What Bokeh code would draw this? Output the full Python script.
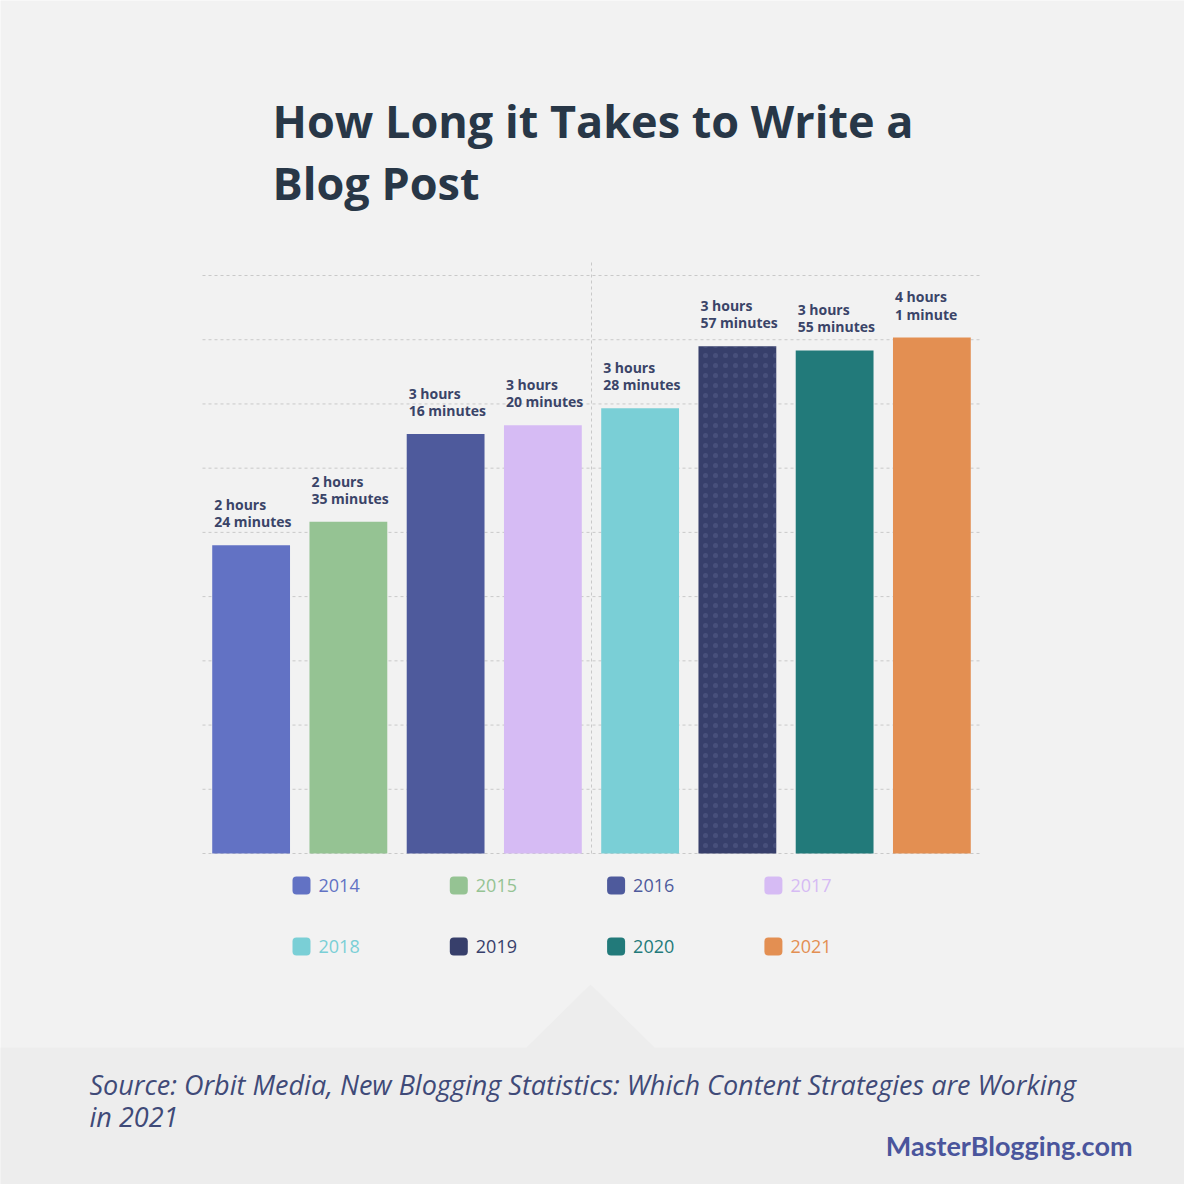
from bokeh.plotting import figure
from bokeh.models import (ColumnDataSource, Range1d, Label, BoxAnnotation,
                          PolyAnnotation)
from bokeh.core.properties import value
from bokeh.embed import file_html
from bokeh.resources import INLINE

# data
years = [2014, 2015, 2016, 2017, 2018, 2019, 2020, 2021]
minutes = [144, 155, 196, 200, 208, 237, 235, 241]
bar_labels = ["2 hours\n24 minutes", "2 hours\n35 minutes", "3 hours\n16 minutes",
              "3 hours\n20 minutes", "3 hours\n28 minutes", "3 hours\n57 minutes",
              "3 hours\n55 minutes", "4 hours\n1 minute"]
colors = ["#6272c4", "#95c393", "#4e5a9c", "#d6bbf4",
          "#7acfd6", "#373f6b", "#227a7a", "#e38f52"]
grid_ticks = [0, 30, 60, 90, 120, 150, 180, 210, 240, 270]

BG = "#f2f2f2"
FOOT = "#ededed"
LABEL_C = "#3a4468"
GRID_C = "#c9c9c9"

W = H = 1184
# plot area inside the canvas (canvas px): left, right, top, bottom
PL, PR, PT, PB = 202, 980, 260, 853
Y_TOP = 277

x_lo, x_hi = years[0] - 0.5, years[-1] + 0.5
xs_per_px = (x_hi - x_lo) / (PR - PL)
ys_per_px = Y_TOP / (PB - PT)


def sx(px):
    # reference page x -> canvas screen x
    return px - 8


def sy(py):
    # reference page y -> canvas screen y (measured from bottom)
    return H - (py - 8)


src = ColumnDataSource(dict(
    year=years, minutes=minutes, label=bar_labels, color=colors,
    hatch=["dot" if y == 2019 else "blank" for y in years],
))

p = figure(width=W, height=H,
           x_range=Range1d(x_lo - PL * xs_per_px, x_hi + (W - PR) * xs_per_px),
           y_range=Range1d(-(H - PB) * ys_per_px, Y_TOP + PT * ys_per_px),
           output_backend="svg", toolbar_location=None,
           x_axis_location=None, y_axis_location=None, min_border=0,
           background_fill_color=BG, border_fill_color=BG,
           outline_line_color=None)
p.grid.visible = False

# footer band with notch
p.add_layout(BoxAnnotation(left=sx(-20), right=sx(1220), top=sy(1055), bottom=sy(1220),
                           left_units="screen", right_units="screen",
                           top_units="screen", bottom_units="screen",
                           fill_color=FOOT, fill_alpha=1, line_color=None,
                           level="underlay"))
p.add_layout(PolyAnnotation(xs=[sx(533), sx(598), sx(663)],
                            ys=[sy(1056), sy(992), sy(1056)],
                            xs_units="screen", ys_units="screen",
                            fill_color=FOOT, fill_alpha=1, line_color=None,
                            level="underlay"))

# dashed grid and centre divider
p.segment(x0=x_lo, x1=x_hi, y0=grid_ticks, y1=grid_ticks, line_color=GRID_C,
          line_dash="3 3", line_width=1)
mid = (years[3] + years[4]) / 2
p.segment(x0=mid, x1=mid, y0=0, y1=Y_TOP, line_color=GRID_C, line_dash="3 3",
          line_width=1)

p.vbar(x="year", top="minutes", width=0.8, source=src, fill_color="color",
       line_color=None, hatch_pattern="hatch", hatch_color="#8088b0",
       hatch_scale=10, hatch_alpha=0.22, hatch_weight=0.8)

p.text(x="year", y="minutes", text="label", source=src, x_offset=-37, y_offset=-14,
       text_font=value("Open Sans"), text_font_style="bold", text_font_size="14px",
       text_color=LABEL_C, text_align="left", text_baseline="bottom",
       text_line_height=0.9)

# title (y = middle of capitals on the page)
for txt, mid_y in [("How Long it Takes to Write a", 128), ("Blog Post", 190)]:
    p.add_layout(Label(x=sx(280), y=sy(mid_y), x_units="screen", y_units="screen",
                       text=txt, text_font="Open Sans", text_font_style="bold",
                       text_font_size="45px", text_color="#283747",
                       text_baseline="middle"))

# legend
for i, (yr, c) in enumerate(zip(years, colors)):
    lx = 300 + (i % 4) * 157.3
    ly = 893 + (i // 4) * 61
    p.add_layout(BoxAnnotation(left=sx(lx), right=sx(lx + 18), top=sy(ly - 9),
                               bottom=sy(ly + 9), left_units="screen",
                               right_units="screen", top_units="screen",
                               bottom_units="screen", fill_color=c, fill_alpha=1,
                               line_color=None, border_radius=4))
    p.add_layout(Label(x=sx(lx + 26), y=sy(ly), x_units="screen", y_units="screen",
                       text=str(yr), text_font="Open Sans", text_font_size="18px",
                       text_color=c, text_baseline="middle"))

for txt, mid_y in [("Source: Orbit Media, New Blogging Statistics: Which Content Strategies are Working", 1092),
                   ("in 2021", 1124)]:
    p.add_layout(Label(x=sx(97), y=sy(mid_y), x_units="screen", y_units="screen",
                       text=txt, text_font="Open Sans", text_font_style="italic",
                       text_font_size="27px", text_color="#3f4a78",
                       text_baseline="middle"))

p.add_layout(Label(x=sx(1140), y=sy(1153), x_units="screen", y_units="screen",
                   text="MasterBlogging.com", text_font="Lato", text_font_style="bold",
                   text_font_size="27px", text_color="#4a559c", text_align="right",
                   text_baseline="middle"))

open("out.html", "w").write(file_html(p, INLINE))
